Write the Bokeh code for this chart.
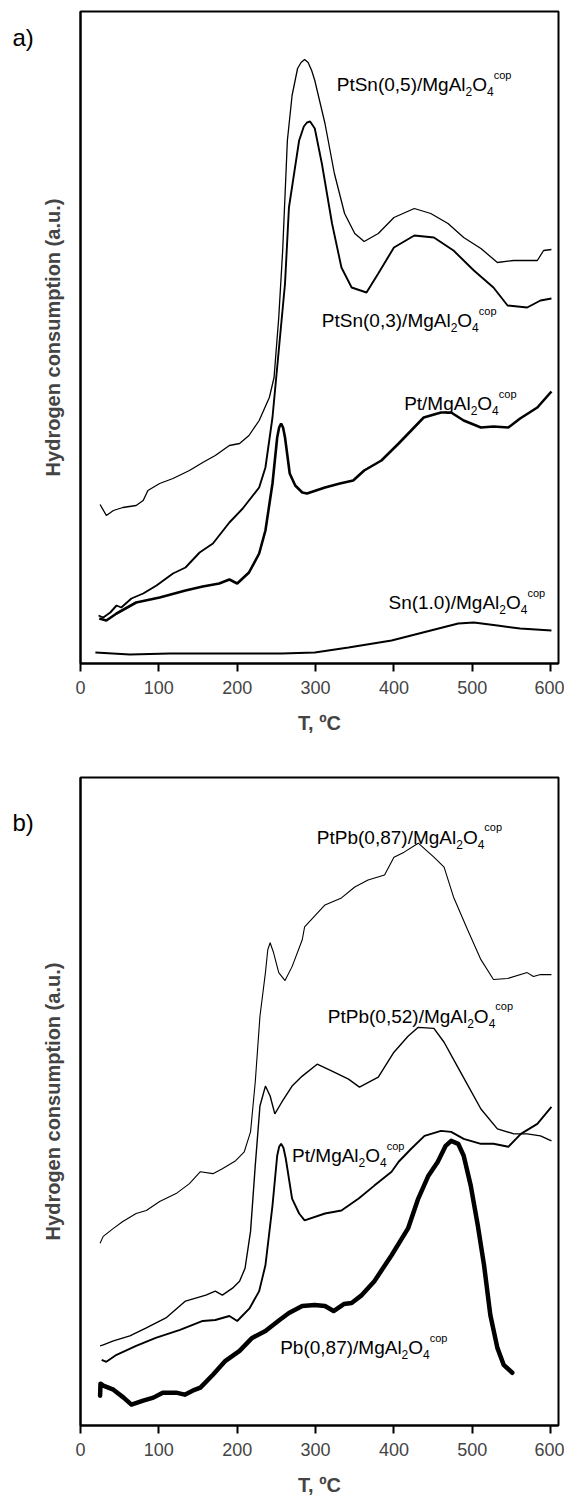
from bokeh.plotting import figure
from bokeh.models import Range1d, Label, FixedTicker
from bokeh.layouts import column, row
from bokeh.core.properties import value
from bokeh.embed import file_html
from bokeh.resources import INLINE

# ---------------- data (T in degC, hydrogen consumption in a.u.) ----------------
X_TICKS = [0, 100, 200, 300, 400, 500, 600]

# panel a
T_ptsn05 = [25, 33, 42, 54, 71, 80, 86, 101, 118, 139, 156, 172, 190, 203, 215, 228, 241, 247,
            253, 258, 264, 270, 277, 281.5, 286, 290.5, 295, 299, 312, 324, 337, 350, 362, 380,
            400, 426, 447, 469, 489, 511, 532, 553, 583, 591, 601]
Y_ptsn05 = [159, 148, 153, 156, 158, 163, 173, 180, 185, 193, 201, 208, 218, 220, 228, 243, 266, 286,
            346, 413, 523, 568, 595, 601, 604, 601, 593, 583, 540, 490, 450, 430, 422, 430,
            446, 455, 450, 440, 426, 415, 401, 403, 403, 413, 414]

T_ptsn03 = [23, 29, 38, 46, 52, 65, 80, 97, 118, 134, 152, 169, 190, 207, 228, 236, 245, 253,
            261, 266, 279, 285, 289, 293, 299, 308, 321, 333, 346, 365, 380, 400, 426, 451, 476,
            502, 527, 545, 570, 587, 601]
Y_ptsn03 = [48, 46, 51, 58, 56, 65, 70, 78, 90, 96, 111, 120, 141, 155, 176, 196, 246, 313,
            380, 456, 523, 537, 541, 542, 535, 500, 440, 396, 376, 371, 390, 416, 428, 426, 413,
            393, 376, 358, 356, 363, 365]

T_pt_a = [24, 33, 46, 71, 101, 134, 156, 177, 190, 200, 215, 228, 236, 245, 251, 253.5, 256,
          258.5, 261, 267, 274, 283, 289, 312, 331, 348, 362, 384, 406, 422, 438, 460, 473, 489,
          511, 527, 546, 561, 583, 601]
Y_pt_a = [45, 43, 50, 61, 66, 73, 77, 80, 84, 80, 91, 110, 133, 180, 226, 236, 240,
          236, 226, 190, 178, 171, 170, 176, 180, 183, 193, 203, 220, 233, 246, 251, 251, 243,
          236, 237, 236, 245, 256, 272]

T_sn = [19, 63, 114, 198, 257, 299, 342, 397, 447, 482, 502, 532, 561, 601]
Y_sn = [11, 9, 10, 10, 10, 11, 16, 23, 33, 40, 41, 38, 35, 33]

# panel b
T_ptpb87 = [25, 29, 42, 54, 71, 84, 101, 122, 139, 153, 169, 181, 198, 209, 217, 223, 229, 236,
            239, 242, 246, 253, 261, 270, 283, 286, 312, 333, 350, 367, 388, 400, 413, 431, 451,
            464, 476, 494, 511, 527, 545, 570, 578, 587, 601]
Y_ptpb87 = [183, 190, 198, 205, 213, 216, 225, 233, 243, 255, 253, 258, 266, 275, 295, 345, 411, 455,
            478, 485, 476, 455, 447, 461, 488, 501, 523, 530, 541, 548, 553, 571, 576, 585, 571,
            561, 531, 498, 468, 448, 449, 455, 451, 453, 453]

T_ptpb52 = [25, 29, 42, 63, 84, 109, 134, 160, 172, 181, 194, 203, 210, 217, 223, 229, 236, 242,
            248, 257, 270, 283, 302, 321, 342, 356, 380, 400, 418, 431, 451, 464, 485, 511, 532,
            553, 570, 587, 601]
Y_ptpb52 = [80, 81, 85, 90, 98, 108, 125, 131, 135, 131, 138, 145, 158, 195, 261, 321, 341, 331,
            313, 325, 341, 351, 363, 356, 348, 340, 350, 375, 391, 400, 399, 385, 355, 318, 298,
            293, 293, 291, 286]

T_pt_b = [27, 33, 46, 71, 96, 127, 156, 172, 190, 200, 216, 228, 236, 245, 251, 253.5, 256, 259,
          262, 270, 279, 286, 312, 333, 355, 375, 397, 406, 422, 439, 460, 473, 489, 511, 527,
          546, 562, 583, 601]
Y_pt_b = [66, 64, 71, 80, 88, 96, 105, 106, 110, 105, 118, 135, 161, 221, 271, 280, 283, 279,
          268, 228, 213, 206, 213, 216, 228, 241, 255, 265, 278, 291, 296, 295, 288, 283, 283,
          280, 293, 303, 320]

T_pb = [25, 25.5, 29, 42, 55, 65, 80, 93, 105, 122, 133, 143, 153, 169, 185, 203, 219, 236,
        254, 266, 283, 299, 312, 323, 336, 346, 359, 375, 397, 418, 431, 444, 456, 466, 473,
        482, 489, 498, 507, 515, 523, 532, 540, 551]
Y_pb = [30, 42, 40, 36, 28, 21, 25, 28, 33, 33, 31, 35, 38, 51, 65, 75, 88, 95,
        106, 113, 120, 121, 120, 115, 122, 123, 131, 145, 171, 198, 228, 251, 265, 281, 286,
        283, 271, 241, 201, 161, 111, 78, 61, 53]

# ---------------- styling ----------------
FONT = "Liberation Sans"
ARIAL_W = {'P': 667, 't': 278, 'S': 667, 'n': 556, '(': 333, ')': 333, ',': 278, '.': 278,
           '/': 278, 'M': 833, 'g': 556, 'A': 667, 'l': 222, 'O': 778, 'b': 556, 'c': 500,
           'o': 556, 'p': 556, ' ': 278}

LEFT_W = 38          # width of the strip holding the panel letter
MAIN_W = 526


def tw(s, size):
    return sum(ARIAL_W.get(ch, 556) for ch in s) * size / 1000.0


def chem_label(p, x, y, prefix, size=19, subsz=12, supsz=11):
    xo = 0.0
    pieces = [(prefix, size, 0), ("2", subsz, -7), ("O", size, 0), ("4", subsz, -7), ("cop", supsz, 10)]
    for text, fs, dy in pieces:
        p.add_layout(Label(x=x, y=y, x_units="data", y_units="data", x_offset=xo, y_offset=dy,
                           text=text, text_font=FONT, text_font_size=f"{fs}px",
                           text_baseline="alphabetic", text_align="left", text_color="black"))
        xo += tw(text, fs)


def make_fig(height, border_top, border_bottom, ymax):
    p = figure(width=MAIN_W, height=height, x_range=Range1d(0, 610), y_range=Range1d(0, ymax),
               output_backend="svg", toolbar_location=None,
               min_border_left=77 - LEFT_W, min_border_right=6, min_border_top=border_top,
               min_border_bottom=border_bottom, background_fill_color="white",
               border_fill_color="white")
    p.grid.visible = False
    p.outline_line_color = "black"
    p.outline_line_width = 2
    p.outline_line_alpha = 1.0
    xa = p.xaxis[0]
    xa.ticker = FixedTicker(ticks=X_TICKS)
    xa.major_tick_in = 0
    xa.major_tick_out = 8
    xa.minor_tick_line_color = None
    xa.axis_line_width = 2
    xa.major_tick_line_width = 2
    xa.major_label_text_font = FONT
    xa.major_label_text_font_size = "18px"
    xa.major_label_standoff = 9
    xa.axis_label = "T, ºC"
    xa.axis_label_text_font = FONT
    xa.axis_label_text_font_style = "bold"
    xa.axis_label_text_font_size = "20px"
    xa.axis_label_standoff = 15
    ya = p.yaxis[0]
    ya.ticker = FixedTicker(ticks=[])
    ya.major_tick_out = 0
    ya.major_tick_in = 0
    ya.minor_tick_line_color = None
    ya.major_label_standoff = 0
    ya.axis_line_width = 2
    ya.axis_label = "Hydrogen consumption (a.u.)"
    ya.axis_label_text_font = FONT
    ya.axis_label_text_font_style = "bold"
    ya.axis_label_text_font_size = "20px"
    ya.axis_label_standoff = 17
    return p


def letter_fig(height, letter, baseline):
    q = figure(width=LEFT_W, height=height, x_range=Range1d(0, LEFT_W), y_range=Range1d(height, 0),
               output_backend="svg", toolbar_location=None, x_axis_location=None,
               y_axis_location=None, min_border=0, background_fill_color="white",
               border_fill_color="white")
    q.outline_line_color = None
    q.grid.visible = False
    q.text(x=[12], y=[baseline], text=[letter], text_font=value(FONT), text_font_size="24px",
           text_baseline="alphabetic", text_align="left", text_color="black")
    return q


HA, HB = 745, 753

# ---------------- panel a ----------------
pa = make_fig(HA, 11, 82, 652)
pa.line(T_ptsn05, Y_ptsn05, line_color="black", line_width=1.3)
pa.line(T_ptsn03, Y_ptsn03, line_color="black", line_width=1.9)
pa.line(T_pt_a, Y_pt_a, line_color="black", line_width=2.6)
pa.line(T_sn, Y_sn, line_color="black", line_width=2.0)
chem_label(pa, 327, 579, "PtSn(0,5)/MgAl")
chem_label(pa, 308, 343, "PtSn(0,3)/MgAl")
chem_label(pa, 413, 260, "Pt/MgAl")
chem_label(pa, 393, 61, "Sn(1.0)/MgAl")

# ---------------- panel b ----------------
pb = make_fig(HB, 32, 70, 651)
pb.line(T_ptpb87, Y_ptpb87, line_color="black", line_width=1.1)
pb.line(T_ptpb52, Y_ptpb52, line_color="black", line_width=1.4)
pb.line(T_pt_b, Y_pt_b, line_color="black", line_width=1.9)
pb.line(T_pb, Y_pb, line_color="black", line_width=4.5, line_join="round", line_cap="round")
chem_label(pb, 301.6, 591, "PtPb(0,87)/MgAl")
chem_label(pb, 315.6, 411, "PtPb(0,52)/MgAl")
chem_label(pb, 270, 271, "Pt/MgAl")
chem_label(pb, 254.8, 78, "Pb(0,87)/MgAl")

la = letter_fig(HA, "a)", 30)
lb = letter_fig(HB, "b)", 52)

layout = column(row(la, pa, spacing=0), row(lb, pb, spacing=0), spacing=0)
open("out.html", "w").write(file_html(layout, INLINE))
